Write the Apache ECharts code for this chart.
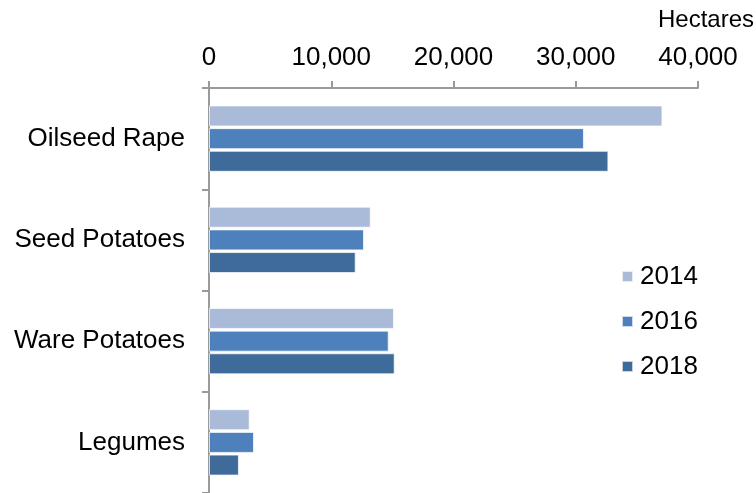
<!DOCTYPE html>
<html>
<head>
<meta charset="utf-8">
<script src="https://cdn.jsdelivr.net/npm/echarts@6/dist/echarts.min.js"></script>
<style>
  html, body { margin: 0; padding: 0; background: #ffffff; }
  #chart { width: 756px; height: 493px; }
</style>
</head>
<body>
<div id="chart"></div>
<script>
// Crop areas by year, in hectares
const categories = ['Oilseed Rape', 'Seed Potatoes', 'Ware Potatoes', 'Legumes'];
const years = ['2014', '2016', '2018'];
const values2014 = [37090, 13230, 15130, 3330];
const values2016 = [30670, 12680, 14700, 3680];
const values2018 = [32670, 12000, 15190, 2450];
const tickValues = [0, 10000, 20000, 30000, 40000];

const colors = ['#AABBD9', '#4E80BC', '#3F6B9B'];
const font = 'Liberation Sans, Arial, sans-serif';

const chart = echarts.init(document.getElementById('chart'), null, { renderer: 'canvas' });

const seriesData = [values2014, values2016, values2018];

chart.setOption({
  animation: false,
  backgroundColor: '#ffffff',
  title: {
    text: 'Hectares',
    right: 2,
    top: 8,
    padding: 0,
    textStyle: { fontFamily: font, fontSize: 24, fontWeight: 'normal', color: '#000000' }
  },
  legend: {
    orient: 'vertical',
    left: 621,
    top: 263,
    padding: 0,
    itemWidth: 11,
    itemHeight: 11,
    itemGap: 18,
    icon: 'rect',
    data: years,
    textStyle: { fontFamily: font, fontSize: 26, color: '#000000', lineHeight: 27, padding: [0, 0, 0, 2] }
  },
  grid: {
    left: 209,
    right: 58,
    top: 88,
    bottom: -5,
    containLabel: false
  },
  xAxis: {
    type: 'value',
    position: 'top',
    min: tickValues[0],
    max: tickValues[tickValues.length - 1],
    interval: tickValues[1] - tickValues[0],
    splitLine: { show: false },
    axisLine: { show: true, lineStyle: { color: '#9A9A9A', width: 2 } },
    axisTick: { show: true, length: 7, lineStyle: { color: '#9A9A9A', width: 2 } },
    axisLabel: {
      margin: 17,
      fontFamily: font,
      fontSize: 26,
      color: '#000000',
      formatter: v => v.toLocaleString('en-GB')
    }
  },
  yAxis: {
    type: 'category',
    inverse: true,
    data: categories,
    axisLine: { show: true, lineStyle: { color: '#9A9A9A', width: 2 } },
    axisTick: { show: true, length: 7, lineStyle: { color: '#9A9A9A', width: 2 } },
    axisLabel: { margin: 24, fontFamily: font, fontSize: 26, color: '#000000' }
  },
  series: years.map((y, i) => ({
    name: y,
    type: 'bar',
    data: seriesData[i],
    barWidth: 21,
    barGap: '8%',
    itemStyle: { color: colors[i], borderColor: 'rgba(255,255,255,0.7)', borderWidth: 1 }
  }))
});
</script>
</body>
</html>
